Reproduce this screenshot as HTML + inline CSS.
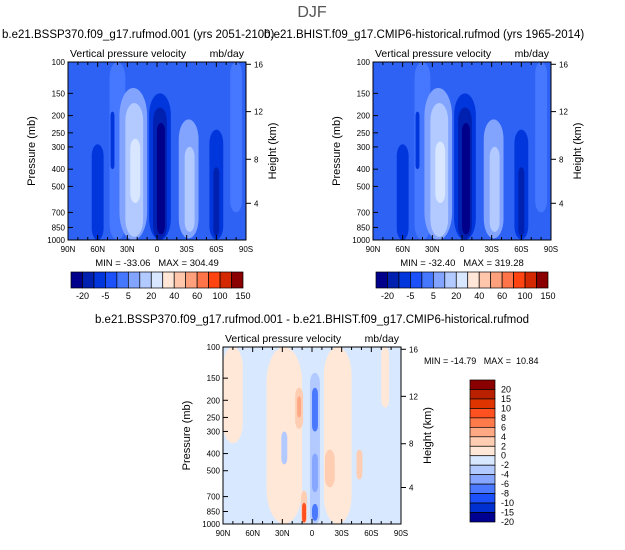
<!DOCTYPE html>
<html><head><meta charset="utf-8"><style>
body{margin:0;background:#fff;width:625px;height:545px;overflow:hidden}
svg{font-family:"Liberation Sans",sans-serif}
text{white-space:pre}
</style></head><body>
<svg id="s" width="625" height="545" viewBox="0 0 625 545" xmlns="http://www.w3.org/2000/svg">
<text x="312" y="17" font-size="16" fill="#555" text-anchor="middle">DJF</text>
</svg>
<script>
// ---- data ----
const latTicks=["90N","60N","30N","0","30S","60S","90S"];
const presTicks=[100,150,200,250,300,400,500,700,850,1000];
const htTicks=[16,12,8,4];
const htPres=[103,190,352,622];
// blobs: [lat(-90=90N..90=90S), halfWidthDeg, topMb, bottomMb, colorIndex]
const levels1=["-20","-5","5","20","40","60","100","150"];
const levels3=["20","15","10","8","6","4","2","0","-2","-4","-6","-8","-10","-15","-20"];
const pal1=["#00008a","#0020b0","#0036dc","#1c50f8","#4677ff","#82a4ff","#b2caff","#d8e6ff","#ffe6d6","#ffc6ac","#ffa07c","#ff7448","#ff4412","#d42800","#8a0000"];
const blobs1=[
 [-40,8,100,1000,4],[80,6,100,700,4],
 [-24,14,140,1000,5],[-23,9,170,960,6],[-22,5,270,620,7],
 [3,11,150,1000,2],[3,7,180,990,1],[4,4,220,930,0],
 [32,10,210,980,5],[33,5,300,900,6],
 [60,7,240,995,2],[60,3,390,950,1],[-60,6,290,1000,2],[-45,2,190,400,2]];
const blobs2=[
 [-40,8,100,1000,4],[80,6,100,700,4],
 [-24,14,140,1000,5],[-23,9,170,960,6],[-22,5,280,620,7],
 [3,11,150,1000,2],[3,7,180,990,1],[4,4,220,930,0],
 [32,10,210,980,5],[33,5,300,900,6],
 [60,7,240,995,2],[60,3,390,950,1],[-60,6,290,1000,2],[-45,2,190,400,2]];
const pal3=["#8a0000","#b82000","#e03400","#ff5020","#ff7a4a","#ffa884","#ffcdb2","#ffe8d8","#d8e8ff","#b2caff","#86a6ff","#4a78ff","#1c50f8","#0030d0","#000090"];
const blobs3=[
 [-80,10,100,350,7],[-28,18,100,1000,7],[26,14,100,1000,7],[74,4,100,220,7],
 [-13,4,170,290,6],[-13,2,190,250,5],[-8,3,650,990,6],[-8,2,760,980,3],[18,5,380,620,6],
 [3,5,140,1000,9],[3,3,170,300,11],[3,3,400,660,10],[3,3,770,960,11],
 [-28,3,300,460,9],[48,3,380,560,6]];
// ---- render ----
const S=document.getElementById('s');const NS="http://www.w3.org/2000/svg";
function el(t,a,p){const e=document.createElementNS(NS,t);for(const k in a)e.setAttribute(k,a[k]);(p||S).appendChild(e);return e;}
function txt(x,y,s,sz,anc,p,rot){const t=el('text',{x:x,y:y,'font-size':sz,'text-anchor':anc||'middle',fill:'#000'},p);if(rot)t.setAttribute('transform','rotate(-90 '+x+' '+y+')');t.textContent=s;return t;}
function panel(x0,y0,W,H,bg,blobs,pal,name){
 const g=el('g',{});
 
 
 const X=l=>x0+(l+90)/180*W;
 const Y=p=>y0+Math.log10(p/100)*H;
 const cp='cp'+name;const d=el('clipPath',{id:cp},g);el('rect',{x:x0,y:y0,width:W,height:H},d);
 const f=el('g',{'clip-path':'url(#'+cp+')'},g);
 el('rect',{x:x0,y:y0,width:W,height:H,fill:bg},f);
 blobs.forEach(b=>{const xa=X(b[0]-b[1]),xb=X(b[0]+b[1]),ya=Y(b[2]),yb=Y(b[3]);
  const r=el('rect',{x:xa,y:ya,width:xb-xa,height:yb-ya,rx:(xb-xa)/2,ry:Math.min((xb-xa),(yb-ya)/2),fill:pal[b[4]]},f);
  
  });
 el('rect',{x:x0,y:y0,width:W,height:H,fill:'none',stroke:'#000','stroke-width':1},g);
 for(let l=-90;l<=90;l+=10){const m=l%30==0?5:3;el('line',{x1:X(l),x2:X(l),y1:y0,y2:y0+m,stroke:'#000'},g);el('line',{x1:X(l),x2:X(l),y1:y0+H,y2:y0+H-m,stroke:'#000'},g);}
 latTicks.forEach((t,i)=>{txt(X(-90+i*30),y0+H+12,t,8,'middle',g);});
 presTicks.forEach(p=>{el('line',{x1:x0,x2:x0+5,y1:Y(p),y2:Y(p),stroke:'#000'},g);txt(x0-3,Y(p)+3,String(p),8,'end',g);});
 htTicks.forEach((h,i)=>{el('line',{x1:x0+W,x2:x0+W+5,y1:Y(htPres[i]),y2:Y(htPres[i]),stroke:'#000'},g);txt(x0+W+8,Y(htPres[i])+3,String(h),8,'start',g);});
 txt(x0-33,y0+H/2,'Pressure (mb)',11,'middle',g,1);
 txt(x0+W+30,y0+H/2,'Height (km)',11,'middle',g,1);
 txt(x0+2,y0-5,'Vertical pressure velocity',10.5,'start',g);
 txt(x0+W-2,y0-5,'mb/day',10.5,'end',g);
 return g;}
panel(68,62,178,178,'#2e62f5',blobs1,pal1,'panel-ssp370');
panel(373,62,178,178,'#2e62f5',blobs2,pal1,'panel-hist');
panel(223,347,178,177,'#d8e8ff',blobs3,pal3,'panel-diff');
txt(2,38,'b.e21.BSSP370.f09_g17.rufmod.001 (yrs 2051-2100)',11.5,'start');
txt(264,38,'b.e21.BHIST.f09_g17.CMIP6-historical.rufmod (yrs 1965-2014)',11.5,'start');
txt(312,323,'b.e21.BSSP370.f09_g17.rufmod.001 - b.e21.BHIST.f09_g17.CMIP6-historical.rufmod',11.5,'middle');
txt(157,266,'MIN = -33.06   MAX = 304.49',9.5,'middle');
txt(462,266,'MIN = -32.40   MAX = 319.28',9.5,'middle');
txt(424,364,'MIN = -14.79   MAX =  10.84',9,'start');
function hbar(x0,y0,W,H,name){const g=el('g',{});
 const w=W/pal1.length;pal1.forEach((c,i)=>el('rect',{x:x0+i*w,y:y0,width:w,height:H,fill:c,stroke:'#000','stroke-width':0.7},g));
 levels1.forEach((l,i)=>txt(x0+(2*i+1)*w,y0+H+11,l,9,'middle',g));}
hbar(71,272,172,16,'colorbar-1');hbar(376,272,172,16,'colorbar-2');
(function(){const g=el('g',{});
 const x0=470,y0=380,h=142/15;pal3.forEach((c,i)=>el('rect',{x:x0,y:y0+i*h,width:25,height:h,fill:c,stroke:'#000','stroke-width':0.7},g));
 levels3.forEach((l,i)=>txt(501,y0+(i+1)*h+3,l,9,'start',g));})();
</script>
</body></html>
